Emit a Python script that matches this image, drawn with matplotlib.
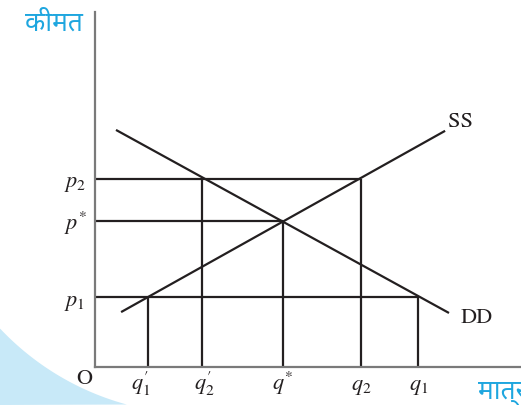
import numpy as np
import matplotlib
matplotlib.use("Agg")
import matplotlib.pyplot as plt
from matplotlib import font_manager
from matplotlib.patches import Polygon
from matplotlib.transforms import blended_transform_factory

# values (1 unit ~ 30 px)
q_names = ["q1'", "q2'", "q*", "q2", "q1"]
q_vals = [1.77, 3.58, 6.27, 8.87, 10.78]
q_tops = [2.33, 6.27, 4.87, 6.27, 2.33]          # price each vertical line rises to
q_labels = [r"$q^{\prime}_{1}$", r"$q^{\prime}_{2}$", r"$q^{*}$", r"$q_{2}$", r"$q_{1}$"]

p_vals = [6.27, 4.87, 2.33]
p_ends = [8.87, 6.27, 10.78]                      # quantity each horizontal line runs to
p_labels = [r"$p_{2}$", r"$p^{*}$", r"$p_{1}$"]

ss_q = [0.87, 11.67]
ss_p = [1.83, 7.87]
dd_q = [0.70, 11.80]
dd_p = [7.90, 1.80]

x_max, y_max = 14.2, 11.83

# pick a Devanagari font that is actually installed
installed = {f.name for f in font_manager.fontManager.ttflist}
deva = [f for f in ["Noto Sans Devanagari", "Hind", "Mukta", "Anek Devanagari", "Amiko"] if f in installed]
deva_family = deva[:1] + ["DejaVu Sans"]

plt.rcParams['mathtext.fontset'] = 'stix'

W, H = 521, 406
fig = plt.figure(figsize=(W / 100, H / 100), dpi=100)

# light blue page decoration bottom-left
cx, cy, r = 198.0, 143.0, 272.0
a0 = np.arctan2(330 - cy, 0 - cx)
a1 = np.arctan2(406 - cy, 126.7 - cx)
th = np.linspace(a0, a1, 80)
pts = [(0, 330)] + list(zip(cx + r * np.cos(th), cy + r * np.sin(th))) + [(0, 406)]
pts = [(x / W, 1 - y / H) for x, y in pts]
fig.add_artist(Polygon(pts, closed=True, transform=fig.transFigure,
                       facecolor='#c8e9f8', edgecolor='none', zorder=0))

ax = fig.add_axes([95 / W, 38 / H, 426 / W, 355 / H])
ax.patch.set_alpha(0)
ax.set_xlim(0, x_max)
ax.set_ylim(0, y_max)
for s in ['top', 'right']:
    ax.spines[s].set_visible(False)
for s in ['left', 'bottom']:
    ax.spines[s].set_color('#7a7a7a')
    ax.spines[s].set_linewidth(1.6)
ax.set_xticks([])
ax.set_yticks([])

line_kw = dict(color='#231f20', lw=1.6)
ax.hlines(p_vals, 0, p_ends, **line_kw)
ax.vlines(q_vals, 0, q_tops, **line_kw)
ax.plot(ss_q, ss_p, solid_capstyle='butt', **line_kw)
ax.plot(dd_q, dd_p, solid_capstyle='butt', **line_kw)

# labels
txt_kw = dict(fontsize=16, color='#231f20', clip_on=False)
ytrans = blended_transform_factory(fig.transFigure, ax.transData)
for p, lab in zip(p_vals, p_labels):
    ax.text(64 / W, p - 0.25, lab, transform=ytrans, ha='left', va='baseline', **txt_kw)

q_dx = [-0.25, 0.05, 0, 0, 0]
for q, lab, dx in zip(q_vals, q_labels, q_dx):
    ax.text(q + dx, -0.72, lab, ha='center', va='baseline', **txt_kw)

ax.text(-0.37, -0.37, "O", ha='center', va='center', family='STIXGeneral', **txt_kw)
ax.text(11.77, 8.2, "SS", ha='left', va='center', family='STIXGeneral', **txt_kw)
ax.text(12.17, 1.67, "DD", ha='left', va='center', family='STIXGeneral', **txt_kw)

fig.text(25 / W, 1 - 24 / H, "कीमत", ha='left', va='center', fontsize=19,
         color='#1ea6df', family=deva_family)
fig.text(478 / W, 1 - 391 / H, "मात्रा", ha='left', va='center', fontsize=19,
         color='#1ea6df', family=deva_family)

fig.savefig("out.png", dpi=100)
